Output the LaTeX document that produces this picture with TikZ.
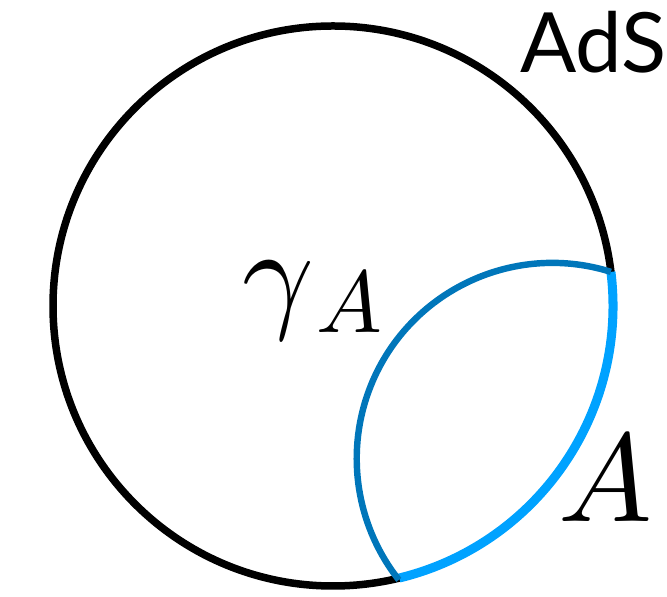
\documentclass[tikz,border=0pt]{standalone}
\usepackage{fontspec}
\usepackage{unicode-math}
\usetikzlibrary{calc}
\newfontfamily\adsfont{Lato}
\definecolor{arcdark}{RGB}{0,118,186}
\definecolor{arclight}{RGB}{0,162,255}
\tikzset{
  bulk/.style={draw=black, line width=6.4pt},
  region/.style={draw=arclight, line width=7.7pt},
  geodesic/.style={draw=arcdark, line width=5.5pt},
  mathlabel/.style={inner sep=0pt, anchor=base west, font=\fontsize{107}{120}\selectfont},
  adslabel/.style={inner sep=0pt, anchor=base west, font=\adsfont\fontsize{71}{80}\selectfont}
}
\begin{document}
\begin{tikzpicture}[x=0.03cm,y=0.03cm]
\useasboundingbox (0,0) rectangle (667,597);
\coordinate (O) at (333,291);
\coordinate (P1) at ($(O)+(7:280)$);
\coordinate (P2) at ($(O)+(-76.3:280)$);
% AdS boundary
\draw[bulk] (O) circle (280);
% boundary region A
\draw[region] (P2) arc[start angle=-76.3, end angle=7, radius=280];
% geodesic gamma_A
\draw[geodesic] (P1) arc[start angle=72.6, end angle=218.3, radius=195.7];
% labels
\node[adslabel] (ads) at (520,524) {AdS};
\node[mathlabel] (gam) at (242,281) {$\gamma\kern0.02em\raisebox{-0.13em}{$\scriptstyle A$}$};
\node[mathlabel] (alab) at (558,75) {$A$};
\end{tikzpicture}
\end{document}
